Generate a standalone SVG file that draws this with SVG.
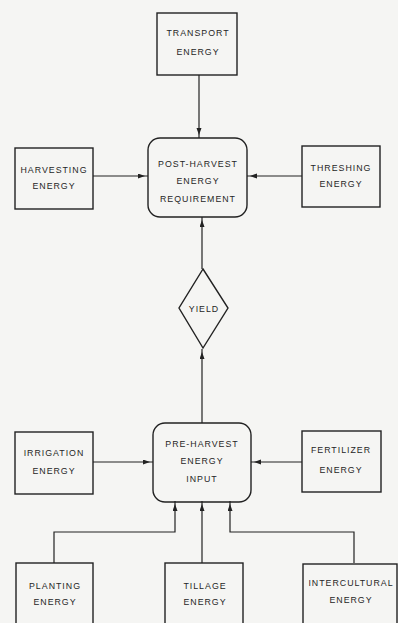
<svg xmlns="http://www.w3.org/2000/svg" width="398" height="623" viewBox="0 0 398 623">
  <defs>
    <marker id="arr" markerUnits="userSpaceOnUse" markerWidth="12" markerHeight="8" refX="10" refY="2.5" orient="auto">
      <path d="M0,0 L7,2.5 L0,5 z" fill="#222"/>
    </marker>
    <style>
      .box { fill: none; stroke: #222; stroke-width: 1.4; }
      .lbl { font-family: "Liberation Sans", Arial, sans-serif; font-size: 8.8px; letter-spacing: 1px; fill: #262626; text-anchor: middle; }
      .wire { fill: none; stroke: #222; stroke-width: 1.2; }
    </style>
  </defs>
  <rect width="398" height="623" fill="#f5f5f3"/>

  <!-- connectors -->
  <g id="connectors">
    <path class="wire" d="M199,75 V138" marker-end="url(#arr)"/>
    <path class="wire" d="M93,176 H148" marker-end="url(#arr)"/>
    <path class="wire" d="M302,176 H247" marker-end="url(#arr)"/>
    <path class="wire" d="M202,269 V217" marker-end="url(#arr)"/>
    <path class="wire" d="M202,423 V349" marker-end="url(#arr)"/>
    <path class="wire" d="M93,462 H153" marker-end="url(#arr)"/>
    <path class="wire" d="M302,462 H251" marker-end="url(#arr)"/>
    <path class="wire" d="M54,563 V532 H175 V501" marker-end="url(#arr)"/>
    <path class="wire" d="M202,563 V501" marker-end="url(#arr)"/>
    <path class="wire" d="M354,563 V532 H230 V501" marker-end="url(#arr)"/>
  </g>

  <g id="transport">
    <rect class="box" x="157" y="13" width="80" height="62"/>
    <text class="lbl" x="198" y="36">TRANSPORT</text>
    <text class="lbl" x="198" y="55">ENERGY</text>
  </g>

  <g id="harvesting">
    <rect class="box" x="15" y="148" width="78" height="61"/>
    <text class="lbl" x="54" y="173">HARVESTING</text>
    <text class="lbl" x="54" y="189">ENERGY</text>
  </g>

  <g id="post-harvest">
    <rect class="box" x="148" y="138" width="99" height="79" rx="12"/>
    <text class="lbl" x="198" y="167">POST-HARVEST</text>
    <text class="lbl" x="198" y="184">ENERGY</text>
    <text class="lbl" x="198" y="202">REQUIREMENT</text>
  </g>

  <g id="threshing">
    <rect class="box" x="302" y="146" width="78" height="61"/>
    <text class="lbl" x="341" y="171">THRESHING</text>
    <text class="lbl" x="341" y="187">ENERGY</text>
  </g>

  <g id="yield">
    <path class="box" d="M203,269 L228,308 L203,348 L179,308 Z"/>
    <text class="lbl" x="204" y="312">YIELD</text>
  </g>

  <g id="irrigation">
    <rect class="box" x="15" y="432" width="78" height="62"/>
    <text class="lbl" x="54" y="456">IRRIGATION</text>
    <text class="lbl" x="54" y="474">ENERGY</text>
  </g>

  <g id="pre-harvest">
    <rect class="box" x="153" y="423" width="98" height="79" rx="12"/>
    <text class="lbl" x="202" y="447">PRE-HARVEST</text>
    <text class="lbl" x="202" y="464">ENERGY</text>
    <text class="lbl" x="202" y="482">INPUT</text>
  </g>

  <g id="fertilizer">
    <rect class="box" x="302" y="431" width="79" height="61"/>
    <text class="lbl" x="341" y="453">FERTILIZER</text>
    <text class="lbl" x="341" y="473">ENERGY</text>
  </g>

  <g id="planting">
    <rect class="box" x="16" y="563" width="77" height="65"/>
    <text class="lbl" x="55" y="589">PLANTING</text>
    <text class="lbl" x="55" y="605">ENERGY</text>
  </g>

  <g id="tillage">
    <rect class="box" x="165" y="563" width="78" height="65"/>
    <text class="lbl" x="205" y="589">TILLAGE</text>
    <text class="lbl" x="205" y="605">ENERGY</text>
  </g>

  <g id="intercultural">
    <rect class="box" x="303" y="564" width="94" height="64"/>
    <text class="lbl" x="351" y="586">INTERCULTURAL</text>
    <text class="lbl" x="351" y="603">ENERGY</text>
  </g>
</svg>
